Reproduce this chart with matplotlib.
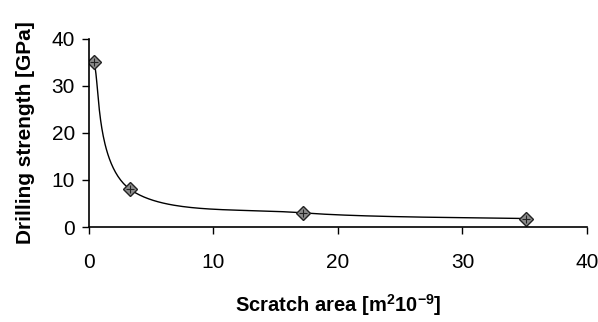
import numpy as np
import matplotlib
matplotlib.use("Agg")
import matplotlib.pyplot as plt

# values
scratch_area = [0.4, 3.3, 17.2, 35.1]
drilling_strength = [35.0, 8.0, 3.0, 1.8]
x_ticks = [0, 10, 20, 30, 40]
y_ticks = [0, 10, 20, 30, 40]

plt.rcParams['font.family'] = ['Liberation Sans', 'DejaVu Sans']
plt.rcParams['mathtext.fontset'] = 'custom'
plt.rcParams['mathtext.rm'] = 'Liberation Sans:bold'
plt.rcParams['mathtext.default'] = 'rm'


def smooth_line(xs, ys, xr, yr, n=60):
    # excel style smoothed line: bezier pieces, control points from neighbours
    px = np.array(xs) / xr
    py = np.array(ys) / yr
    pts = np.column_stack([px, py])
    out = []
    for i in range(len(pts) - 1):
        p0 = pts[max(i - 1, 0)]
        p1 = pts[i]
        p2 = pts[i + 1]
        p3 = pts[min(i + 2, len(pts) - 1)]
        c1 = p1 + (p2 - p0) / 6.0
        c2 = p2 - (p3 - p1) / 6.0
        t = np.linspace(0, 1, n)[:, None]
        seg = ((1 - t) ** 3) * p1 + 3 * ((1 - t) ** 2) * t * c1 + 3 * (1 - t) * t ** 2 * c2 + t ** 3 * p2
        out.append(seg)
    out = np.vstack(out)
    return out[:, 0] * xr, out[:, 1] * yr


fig = plt.figure(figsize=(5.98, 3.22), dpi=100)
ax = fig.add_axes([0.1488, 0.295, 0.8328, 0.585])

# aspect of the plot box used to make the smoothing look like screen space
sx, sy = smooth_line(scratch_area, drilling_strength, 40 / 498.0, 40 / 188.0)
ax.plot(sx, sy, color='black', linewidth=1.0)
ax.plot(scratch_area, drilling_strength, linestyle='none', marker='D',
        markersize=7, markerfacecolor='#8c8c8c', markeredgecolor='#222222',
        markeredgewidth=1.0)
ax.plot(scratch_area, drilling_strength, linestyle='none', marker='+',
        markersize=6, color='#222222', markeredgewidth=0.8)

ax.set_xlim(0, 40)
ax.set_ylim(0, 40)
ax.set_xticks(x_ticks)
ax.set_yticks(y_ticks)
ax.spines['top'].set_visible(False)
ax.spines['right'].set_visible(False)
ax.spines['left'].set_linewidth(1.2)
ax.spines['bottom'].set_linewidth(1.2)
ax.tick_params(axis='x', direction='out', length=5, width=1.0, pad=14, labelsize=15)
ax.tick_params(axis='y', direction='out', length=5, width=1.0, pad=5, labelsize=15)

ax.set_xlabel(r'Scratch area [m$^{2}$10$^{-9}$]', fontsize=14.5,
              fontweight='bold', labelpad=14)
ax.set_ylabel('Drilling strength [GPa]', fontsize=15, fontweight='bold',
              labelpad=12)

fig.savefig('out.png', dpi=100)
